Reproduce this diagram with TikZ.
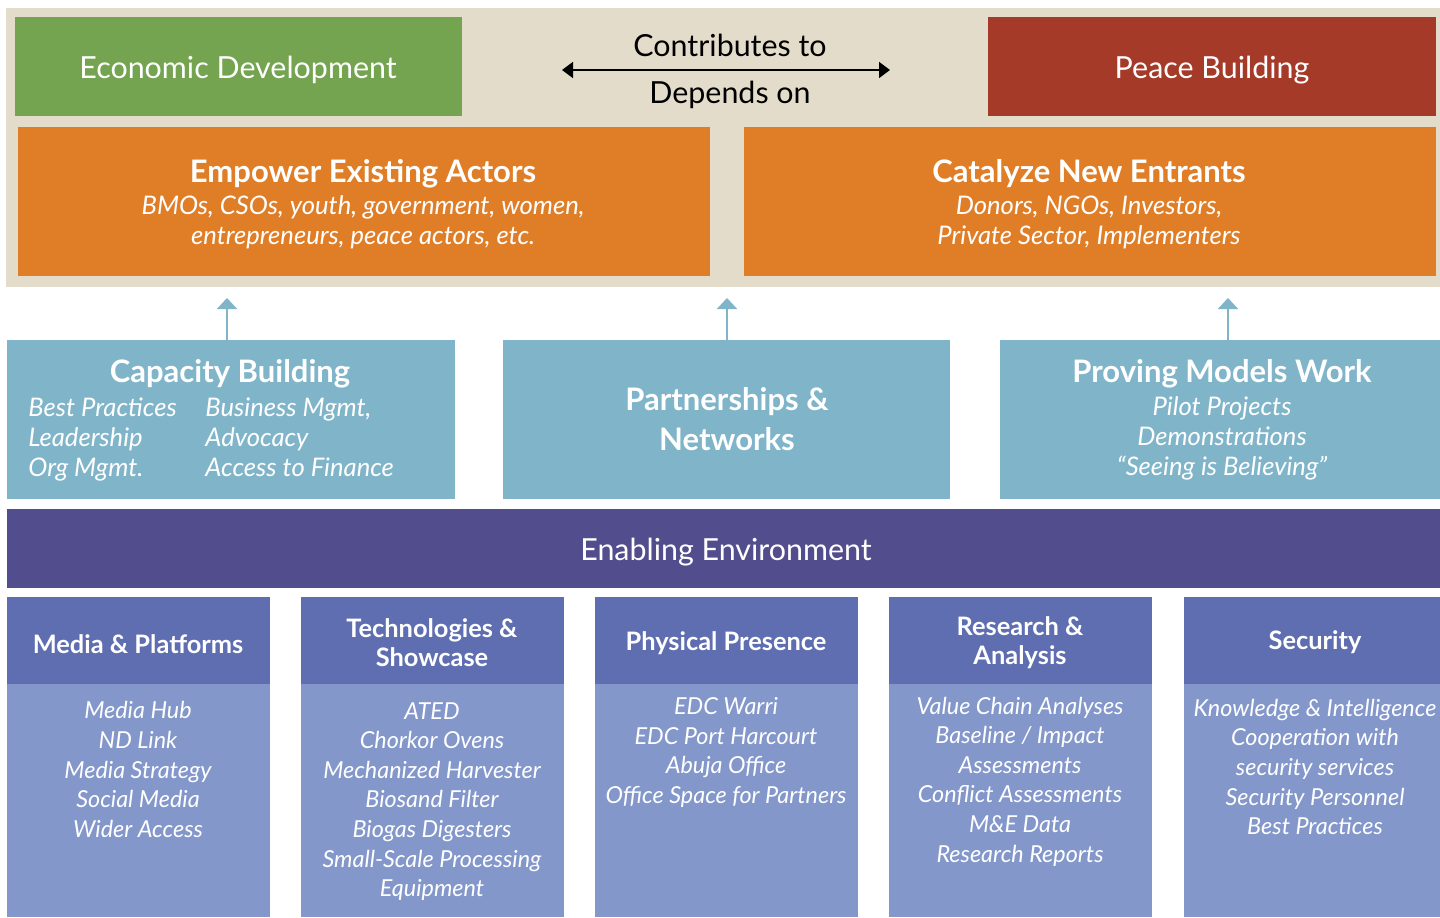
\documentclass[tikz,border=0pt]{standalone}
\usepackage{fontspec}
\setmainfont{Lato}
\usetikzlibrary{arrows.meta,positioning}
\definecolor{beige}{HTML}{E3DCCB}
\definecolor{econgreen}{HTML}{74A450}
\definecolor{peacered}{HTML}{A63A29}
\definecolor{actorange}{HTML}{E07E27}
\definecolor{leverblue}{HTML}{80B5C9}
\definecolor{envpurple}{HTML}{524E8E}
\definecolor{colhead}{HTML}{5F6EB1}
\definecolor{colbody}{HTML}{8397CB}
\tikzset{panel/.style args={#1x#2}{rectangle,inner sep=0pt,minimum width=#1*0.5pt,minimum height=#2*0.5pt},
  big/.style={text=white,inner sep=0pt,align=center,font=\fontsize{15.2}{20}\selectfont},
  bigb/.style={big,font=\fontsize{15.5}{20}\selectfont\bfseries},
  sub/.style={text=white,inner sep=0pt,align=center,font=\fontsize{12.8}{15}\selectfont\itshape},
  hd/.style={text=white,inner sep=0pt,align=center,font=\fontsize{12.7}{14.5}\selectfont\bfseries},
  itm/.style={text=white,inner sep=0pt,align=center,font=\fontsize{11.7}{14.8}\selectfont\itshape},
  rise/.style={draw=leverblue,line width=1pt,-{Triangle[length=5.5pt,width=10pt]}},
  link/.style={draw=black,line width=0.8pt,{Triangle[length=5.5pt,width=8pt]}-{Triangle[length=5.5pt,width=8pt]}}}

\begin{document}
\begin{tikzpicture}[x=0.5pt,y=-0.5pt]
\fill[white] (0,0) rectangle (1440,917);
\useasboundingbox (0,0) rectangle (1440,917);
% goals
\node (band) at (723,147.5) [panel=1434x279,fill=beige] {};
\node (econ) at (238.5,66.5) [panel=447x99,fill=econgreen] {};
\node (peace) at (1212,66.5) [panel=448x99,fill=peacered] {};
\node (econT) at (238,70) [big] {Economic Development};
\node (peaceT) at (1212,70) [big] {Peace Building};
\coordinate (lt) at (562,70);
\coordinate (rt) at (890,70);
\draw[link] (lt) -- (rt);
\node (contrib) at (730,45) [big,text=black] {Contributes to};
\node (depend) at (730,95) [big,text=black] {Depends on};
% actors
\node (empower) at (364,201.5) [panel=692x149,fill=actorange] {};
\node (catalyze) at (1090,201.5) [panel=692x149,fill=actorange] {};
\node (empT) at (363,173.5) [bigb] {Empower Existing Actors};
\node (empS) at (363,222) [sub] {BMOs, CSOs, youth, government, women,\\entrepreneurs, peace actors, etc.};
\node (catT) at (1089,173.5) [bigb] {Catalyze New Entrants};
\node (catS) at (1089,222) [sub] {Donors, NGOs, Investors,\\Private Sector, Implementers};
% levers
\node (cap) at (231,419.5) [panel=448x159,fill=leverblue] {};
\node (part) at (726.5,419.5) [panel=447x159,fill=leverblue] {};
\node (prove) at (1220,419.5) [panel=440x159,fill=leverblue] {};
\node (capT) at (230,373.5) [bigb] {Capacity Building};
\node (capL) at (28,439) [sub,anchor=west,align=left] {Best Practices\\Leadership\\Org Mgmt.};
\node (capR) at (205,437) [sub,anchor=west,align=left] {Business Mgmt,\\Advocacy\\Access to Finance};
\node (partT) at (727,419) [bigb] {Partnerships \&\\Networks};
\node (proveT) at (1222,373.5) [bigb] {Proving Models Work};
\node (proveS) at (1222,438) [sub] {Pilot Projects\\Demonstrations\\``Seeing is Believing''};
\coordinate (capUp) at (227,298);
\coordinate (partUp) at (727,298);
\coordinate (proveUp) at (1228,298);
\draw[rise] (cap.north -| capUp) -- (capUp);
\draw[rise] (part.north -| partUp) -- (partUp);
\draw[rise] (prove.north -| proveUp) -- (proveUp);
% environment
\node (env) at (723.5,548.5) [panel=1433x79,fill=envpurple] {};
\node (envT) at (726,552) [big] {Enabling Environment};
% columns
\node (mediaH) at (138.5,640.5) [panel=263x87,fill=colhead] {};
\node (mediaB) at (138.5,800.5) [panel=263x233,fill=colbody] {};
\node (techH) at (432.5,640.5) [panel=263x87,fill=colhead] {};
\node (techB) at (432.5,800.5) [panel=263x233,fill=colbody] {};
\node (physH) at (726.5,640.5) [panel=263x87,fill=colhead] {};
\node (physB) at (726.5,800.5) [panel=263x233,fill=colbody] {};
\node (resH) at (1020.5,640.5) [panel=263x87,fill=colhead] {};
\node (resB) at (1020.5,800.5) [panel=263x233,fill=colbody] {};
\node (secH) at (1312,640.5) [panel=256x87,fill=colhead] {};
\node (secB) at (1312,800.5) [panel=256x233,fill=colbody] {};
\node (mediaT) at (138,644.5) [hd] {Media \& Platforms};
\node (techT) at (432,642.5) [hd] {Technologies \&\\Showcase};
\node (physT) at (726,643.5) [hd] {Physical Presence};
\node (resT) at (1020,642.5) [hd] {Research \&\\Analysis};
\node (secT) at (1315,642.5) [hd] {Security};
\node (mediaS) at (138,769.5) [itm] {Media Hub\\ND Link\\Media Strategy\\Social Media\\Wider Access};
\node (techS) at (432,801.5) [itm] {ATED\\Chorkor Ovens\\Mechanized Harvester\\Biosand Filter\\Biogas Digesters\\Small-Scale Processing\\Equipment};
\node (physS) at (726,752.5) [itm] {EDC Warri\\EDC Port Harcourt\\Abuja Office\\Office Space for Partners};
\node (resS) at (1020,781.5) [itm] {Value Chain Analyses\\Baseline / Impact\\Assessments\\Conflict Assessments\\M\&E Data\\Research Reports};
\node (secS) at (1315,767) [itm] {Knowledge \& Intelligence\\Cooperation with\\security services\\Security Personnel\\Best Practices};
\end{tikzpicture}
\end{document}
